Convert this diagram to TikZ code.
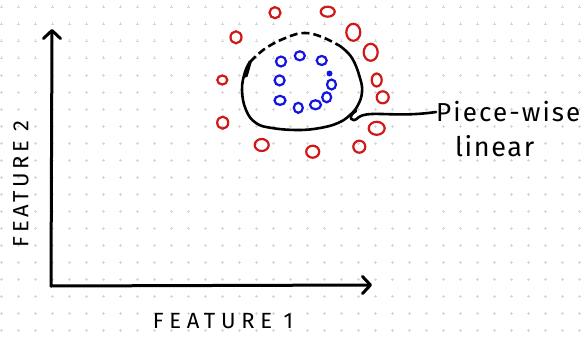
\documentclass[tikz,border=0pt]{standalone}
\usepackage{fontspec}
\newfontfamily\handA[LetterSpace=26]{Fira Sans}
\newfontfamily\handB[LetterSpace=16]{Fira Sans}
\newfontfamily\handC[LetterSpace=8]{Fira Sans}
\newfontfamily\handD[LetterSpace=6]{Fira Sans}
\usetikzlibrary{arrows.meta}
\definecolor{dotgray}{HTML}{D6D6D6}
\definecolor{redc}{HTML}{D01818}
\definecolor{bluec}{HTML}{1414E0}
\tikzset{
  axisline/.style={line width=3pt, line cap=round, line join=round,
    -{Straight Barb[length=8pt,width=17pt,line width=3pt,round]}},
  blobline/.style={line width=2.6pt, line cap=round, line join=round},
  redpt/.style={draw=redc, line width=2.2pt},
  bluept/.style={draw=bluec, line width=2.2pt},
  handtext/.style={inner sep=0pt},
}
\begin{document}
\begin{tikzpicture}[x=1pt,y=-1pt]
\useasboundingbox (0,0) rectangle (586,337);
\fill[white] (0,0) rectangle (586,337);
% dot grid
\foreach \i in {0,...,34}{
  \foreach \j in {0,...,19}{
    \draw[dotgray, line width=0.4pt] ({1.5+17*\i-1.5},{7+17*\j}) -- ++(3,0)
      ({1.5+17*\i},{7+17*\j-1.5}) -- ++(0,3);
  }
}
% axes
\coordinate (origin) at (51,286);
\coordinate (ytip) at (52,29);
\coordinate (xtip) at (372,285);
\draw[axisline] (origin) -- (ytip);
\draw[axisline] (origin) -- (xtip);
% labels
\node[handtext, font=\handA\fontsize{22}{22}\selectfont, anchor=center] (xlab) at (223,321) {FEATURE 1};
\node[handtext, font=\handB\fontsize{22}{22}\selectfont, rotate=90, anchor=center] (ylab) at (21,184) {FEATURE 2};
% red points
\foreach \x/\y/\rx/\ry in {275/12.7/5.5/5.5, 327.7/11.7/7/5, 236/37.3/5.5/6, 353.3/32.3/7/8.5,
  370.7/52.3/7/8.5, 222.3/80/5/4.5, 376.7/80/5/6.5, 382.7/97.3/6/6, 222.7/122.7/5.5/6,
  376.7/128.3/8/6.5, 261.7/145/7/6, 312.7/151.7/6.5/6, 359.3/146.7/6/6}{
  \draw[redpt] (\x,\y) ellipse [x radius=\rx pt, y radius=\ry pt];
}
% blue points
\foreach \x/\y/\rx/\ry in {281/61.5/5/5, 299.8/55.8/5/4.5, 321.7/60.5/5/4.5, 331.5/84.5/4.5/5,
  279.6/80.4/5/5, 326.7/97.3/4.5/5, 280/100.4/5.5/4.5, 298.3/107.8/4.5/5, 315.5/104.8/5.5/4.5}{
  \draw[bluept] (\x,\y) ellipse [x radius=\rx pt, y radius=\ry pt];
}
\fill[bluec] (329.5,73.5) circle (3pt);
% blob boundary
\draw[blobline] plot[smooth, tension=0.7] coordinates {(340,46) (352,58) (360,78) (362,92) (358,105) (350,115) (338,123) (320,128) (298,130) (272,128) (256,123) (246,110) (242,90) (245,72) (250,62)};
\draw[blobline, line cap=butt, dash pattern=on 8pt off 4pt] plot[smooth, tension=0.7] coordinates {(250,62) (266,48) (288,37) (305,33) (322,37) (340,46)};
\draw[line width=3.4pt, line cap=round] (246,76) -- (250,62);
% label and connector
\node[handtext, font=\handC\fontsize{26}{26}\selectfont, anchor=west] (pw) at (436,112) {Piece-wise};
\node[handtext, font=\handD\fontsize{27}{27}\selectfont, anchor=west] (lin) at (455,146) {linear};
\coordinate (tap) at (356,111);
\draw[blobline] (tap) .. controls (347,116) and (351,125) .. (359,117) .. controls (370,110) and (395,118) .. (pw.west);
\end{tikzpicture}
\end{document}
